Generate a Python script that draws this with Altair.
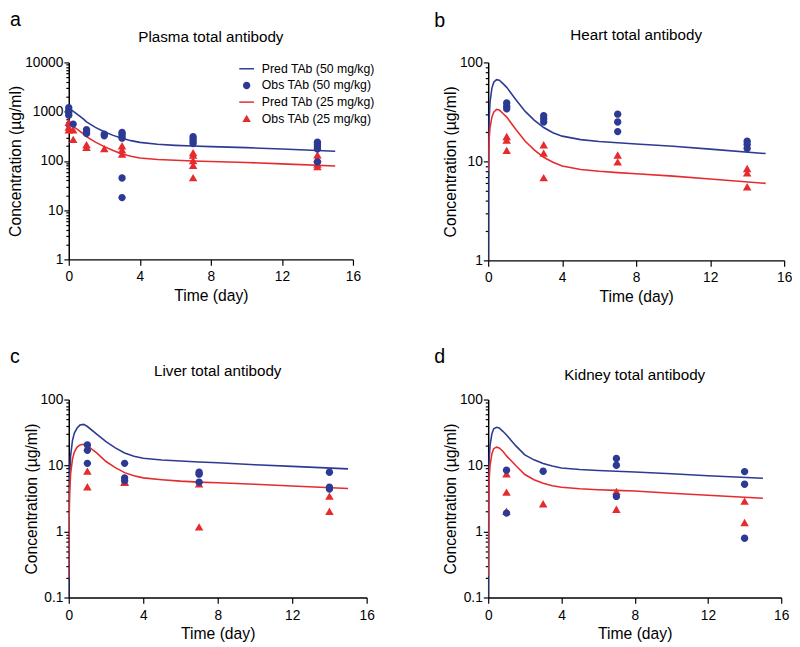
import altair as alt
import pandas as pd

FONT = "Liberation Sans"
BLUE = "#2d3a94"
RED = "#e62b2e"

S_P50 = "Pred TAb (50 mg/kg)"
S_O50 = "Obs TAb (50 mg/kg)"
S_P25 = "Pred TAb (25 mg/kg)"
S_O25 = "Obs TAb (25 mg/kg)"
SERIES = [S_P50, S_O50, S_P25, S_O25]

# model prediction time grid (day)
t_grid = [0, 0.02, 0.05, 0.1, 0.2, 0.3, 0.45, 0.6, 0.8, 1, 1.5, 2, 2.5, 3, 3.5, 4, 5, 6, 7, 8, 10, 12, 15]

# ---- Plasma ----
plasma_pred50 = [1200, 1185, 1160, 1120, 1050, 985, 900, 825, 720, 620, 480, 390, 330, 288, 258, 238, 218, 207, 200, 195, 186, 175, 157]
plasma_pred25 = [590, 585, 572, 555, 520, 488, 445, 408, 358, 310, 240, 195, 163, 138, 124, 115, 107, 103, 100, 97, 93, 87, 79]
plasma_obs50_t = [0, 0, 0, 0, 0.25, 1, 1, 1, 2, 2, 3, 3, 3, 3, 3, 3, 7, 7, 7, 7, 14, 14, 14, 14, 14]
plasma_obs50_v = [1200, 1050, 950, 850, 560, 430, 390, 360, 350, 325, 380, 350, 320, 290, 45, 18, 310, 280, 250, 225, 240, 215, 195, 175, 95]
plasma_obs25_t = [0, 0, 0, 0.25, 0.25, 1, 1, 2, 3, 3, 3, 7, 7, 7, 7, 7, 14, 14, 14, 14]
plasma_obs25_v = [600, 480, 420, 420, 270, 210, 185, 175, 200, 165, 135, 145, 129, 100, 80, 45, 130, 110, 85, 75]

# ---- Heart ----
heart_pred50 = [1.0, 12, 26, 40, 55, 63, 67, 66, 61, 56, 42, 32, 26, 22, 19.5, 18, 16.6, 15.9, 15.4, 15.0, 14.2, 13.3, 12.0]
heart_pred25 = [8, 12, 17, 22, 28, 31.5, 33.5, 33, 30.5, 28, 21, 16, 13, 11, 9.8, 9.0, 8.3, 7.95, 7.7, 7.5, 7.1, 6.65, 6.0]
heart_obs50_t = [1, 1, 1, 3, 3, 3, 7, 7, 7, 14, 14, 14]
heart_obs50_v = [39, 36, 34, 29, 27, 25, 30, 25, 20, 16, 14.8, 13.5]
heart_obs25_t = [1, 1, 1, 3, 3, 3, 7, 7, 14, 14, 14]
heart_obs25_v = [17.7, 16.3, 12.8, 14.6, 12.0, 6.8, 11.5, 9.8, 8.4, 7.6, 5.5]

# ---- Liver ----
liver_pred50 = [0.08, 2.5, 7, 14, 24, 31, 37, 41, 42, 39, 30, 23, 18.5, 15.5, 13.8, 12.9, 12.1, 11.7, 11.3, 11.0, 10.3, 9.7, 8.9]
liver_pred25 = [0.19, 1.5, 4, 7.5, 12.5, 16, 19, 20.5, 21, 20, 15.5, 11.5, 9.3, 7.8, 7.0, 6.5, 6.1, 5.8, 5.6, 5.5, 5.2, 4.9, 4.5]
liver_obs50_t = [1, 1, 1, 3, 3, 3, 7, 7, 7, 14, 14, 14]
liver_obs50_v = [20.5, 17, 10.8, 10.8, 6.5, 5.9, 7.9, 7.4, 5.6, 7.9, 4.7, 4.4]
liver_obs25_t = [1, 1, 3, 3, 7, 7, 14, 14]
liver_obs25_v = [8.1, 4.7, 5.5, 5.6, 5.2, 1.16, 3.4, 2.0]

# ---- Kidney ----
kidney_pred50 = [0.08, 5, 12, 20, 30, 36, 38, 37, 33, 29, 20, 14.5, 12.2, 10.7, 9.8, 9.2, 8.7, 8.4, 8.2, 8.0, 7.5, 7.0, 6.4]
kidney_pred25 = [0.21, 2.5, 6, 10, 15, 18, 19, 18.5, 16.5, 14, 10, 7.3, 6.1, 5.4, 4.95, 4.7, 4.45, 4.3, 4.2, 4.1, 3.8, 3.55, 3.2]
kidney_obs50_t = [1, 1, 3, 7, 7, 7, 14, 14, 14]
kidney_obs50_v = [8.5, 1.9, 8.2, 12.8, 10.1, 3.4, 8.1, 5.2, 0.79]
kidney_obs25_t = [1, 1, 1, 3, 7, 7, 14, 14]
kidney_obs25_v = [7.4, 3.9, 2.0, 2.6, 4.0, 2.15, 2.85, 1.35]

x_ticks = [0, 4, 8, 12, 16]

LINE_PATH = "M-1,-0.1H1V0.1H-1Z"
CIRCLE_PATH = "M0.5,0A0.5,0.5,0,1,1,-0.5,0A0.5,0.5,0,1,1,0.5,0Z"
TRI_PATH = "M0,-0.55L0.58,0.45L-0.58,0.45Z"

color_scale = alt.Scale(domain=SERIES, range=[BLUE, BLUE, RED, RED])
shape_scale = alt.Scale(domain=SERIES, range=[LINE_PATH, CIRCLE_PATH, LINE_PATH, TRI_PATH])


def minor_ticks(lo_exp, hi_exp):
    vals = []
    for e in range(lo_exp, hi_exp):
        for m in range(1, 10):
            vals.append(round(m * 10.0 ** e, 6))
    vals.append(round(10.0 ** hi_exp, 6))
    return vals


DECADE = "abs(log(datum.value)/LN10 - round(log(datum.value)/LN10)) < 1e-6"


def panel(letter, title, pred50, pred25, o50t, o50v, o25t, o25v, lo_exp, hi_exp,
          width, height, show_legend, letter_x, letter_y, title_y):
    pred = pd.DataFrame({
        "t": t_grid + t_grid,
        "v": pred50 + pred25,
        "series": [S_P50] * len(t_grid) + [S_P25] * len(t_grid),
    })
    obs25 = pd.DataFrame({"t": o25t, "v": o25v, "series": [S_O25] * len(o25t)})
    obs50 = pd.DataFrame({"t": o50t, "v": o50v, "series": [S_O50] * len(o50t)})

    xenc = alt.X("t:Q", scale=alt.Scale(domain=[0, 16], nice=False),
                 axis=alt.Axis(values=x_ticks, title="Time (day)", tickSize=6,
                               labelPadding=5, titlePadding=4, labelFlush=False))
    yenc = alt.Y("v:Q",
                 scale=alt.Scale(type="log", domain=[10.0 ** lo_exp, 10.0 ** hi_exp], nice=False),
                 axis=alt.Axis(values=minor_ticks(lo_exp, hi_exp),
                               title="Concentration (µg/ml)",
                               labelExpr=f"({DECADE}) ? toString(datum.value) : ''",
                               tickSize={"condition": {"test": DECADE, "value": 5}, "value": 3},
                               labelPadding=1, titlePadding=1, labelOverlap=False))

    if show_legend:
        leg = alt.Legend(title=None, orient="none", legendX=174, legendY=-1,
                         labelFontSize=12.5, labelFont=FONT, labelColor="black",
                         symbolSize=225, labelOffset=8, rowPadding=3,
                         symbolStrokeWidth=0)
    else:
        leg = None

    lines = alt.Chart(pred).mark_line(strokeWidth=1.6, clip=True).encode(
        x=xenc, y=yenc,
        color=alt.Color("series:N", scale=color_scale, legend=leg),
    )
    pts25 = alt.Chart(obs25).mark_point(filled=True, size=225, opacity=1, strokeWidth=0).encode(
        x=xenc, y=yenc,
        color=alt.Color("series:N", scale=color_scale, legend=leg),
        shape=alt.Shape("series:N", scale=shape_scale, legend=leg),
    )
    pts50 = alt.Chart(obs50).mark_point(filled=True, size=225, opacity=1, strokeWidth=0).encode(
        x=xenc, y=yenc,
        color=alt.Color("series:N", scale=color_scale, legend=leg),
        shape=alt.Shape("series:N", scale=shape_scale, legend=leg),
    )
    lab = alt.Chart(pd.DataFrame({"lab": [letter]})).mark_text(
        align="left", baseline="alphabetic", fontSize=20, font=FONT, color="black"
    ).encode(x=alt.value(letter_x), y=alt.value(letter_y), text="lab:N")
    ttl = alt.Chart(pd.DataFrame({"ttl": [title]})).mark_text(
        align="center", baseline="middle", fontSize=15.5, font=FONT, color="black"
    ).encode(x=alt.value(width / 2), y=alt.value(title_y), text="ttl:N")

    return alt.layer(lines, pts25, pts50, lab, ttl).properties(width=width, height=height)


pa = panel("a", "Plasma total antibody", plasma_pred50, plasma_pred25,
           plasma_obs50_t, plasma_obs50_v, plasma_obs25_t, plasma_obs25_v,
           0, 4, 290, 201, True, -60, -37, -26)
pb = panel("b", "Heart total antibody", heart_pred50, heart_pred25,
           heart_obs50_t, heart_obs50_v, heart_obs25_t, heart_obs25_v,
           0, 2, 302, 202, False, -55, -36, -28)
pc = panel("c", "Liver total antibody", liver_pred50, liver_pred25,
           liver_obs50_t, liver_obs50_v, liver_obs25_t, liver_obs25_v,
           -1, 2, 304, 202, False, -60, -37, -29)
pd_ = panel("d", "Kidney total antibody", kidney_pred50, kidney_pred25,
            kidney_obs50_t, kidney_obs50_v, kidney_obs25_t, kidney_obs25_v,
            -1, 2, 299, 202, False, -55, -37, -25)

chart = alt.concat(pa, pb, pc, pd_, columns=2, spacing={"row": 44, "column": 60}).resolve_scale(
    x="independent", y="independent", color="independent", shape="independent"
).properties(
    padding={"left": 0, "top": -4, "right": 0, "bottom": 0}
).configure_view(stroke=None).configure_axis(
    domainColor="black", domainWidth=1.5, tickColor="black", tickWidth=1.2,
    labelColor="black", titleColor="black", labelFont=FONT, titleFont=FONT,
    labelFontSize=14, titleFontSize=16, titleFontWeight="normal", grid=False,
)

chart.save("out.html", embed_options={"renderer": "svg", "actions": False})
